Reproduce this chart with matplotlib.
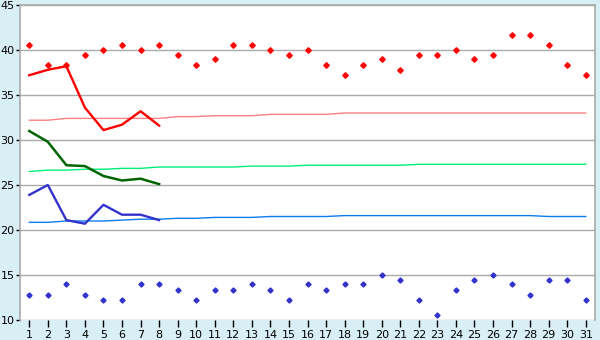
import matplotlib
matplotlib.use("Agg")
import matplotlib.pyplot as plt

days = list(range(1, 32))

# daily max / min (markers)
tmax = [40.6, 38.3, 38.3, 39.4, 40.0, 40.6, 40.0, 40.6, 39.4, 38.3,
        39.0, 40.6, 40.6, 40.0, 39.4, 40.0, 38.3, 37.2, 38.3, 39.0,
        37.8, 39.4, 39.4, 40.0, 39.0, 39.4, 41.7, 41.7, 40.6, 38.3, 37.2]
tmin = [12.8, 12.8, 14.0, 12.8, 12.2, 12.2, 14.0, 14.0, 13.3, 12.2,
        13.3, 13.3, 14.0, 13.3, 12.2, 14.0, 13.3, 14.0, 14.0, 15.0,
        14.4, 12.2, 10.6, 13.3, 14.4, 15.0, 14.0, 12.8, 14.4, 14.4, 12.2]

# observed so far (days 1-8)
obs_days = [1, 2, 3, 4, 5, 6, 7, 8]
obs_max = [37.2, 37.8, 38.2, 33.6, 31.1, 31.7, 33.2, 31.6]
obs_mean = [31.0, 29.8, 27.2, 27.1, 26.0, 25.5, 25.7, 25.1]
obs_min = [23.9, 25.0, 21.1, 20.7, 22.8, 21.7, 21.7, 21.1]

# normals
norm_max = [32.2, 32.2] + [32.4] * 6 + [32.6] * 2 + [32.7] * 3 + [32.85] * 4 + [33.0] * 14
norm_mean = [26.5, 26.65, 26.65, 26.75, 26.75, 26.85, 26.85] + [27.0] * 5 + [27.1] * 3 + [27.2] * 6 + [27.3] * 10
norm_min = [20.85, 20.85, 21.0, 21.0, 21.0, 21.1, 21.2, 21.2, 21.3, 21.3,
            21.4, 21.4, 21.4, 21.5, 21.5, 21.5, 21.5] + [21.6] * 11 + [21.5] * 3

BG = "#d9eff6"
GRID = "#aaaaaa"

fig = plt.figure(figsize=(6, 3.4), dpi=100, facecolor=BG)
ax = fig.add_axes([20 / 600, 1 - 320 / 340, 575 / 600, 315 / 340])
ax.set_facecolor("white")

ax.plot(days, norm_max, color="#ff8080", lw=1)
ax.plot(days, norm_mean, color="#00ee77", lw=1)
ax.plot(days, norm_min, color="#0a7cf0", lw=1)

ax.plot(obs_days, obs_max, color="#ff0000", lw=1.7)
ax.plot(obs_days, obs_mean, color="#006400", lw=1.8)
ax.plot(obs_days, obs_min, color="#3333cc", lw=1.7)

ax.plot(days, tmax, ls="none", marker="D", ms=2.8, color="#ff0000", mec="#ff0000")
ax.plot(days, tmin, ls="none", marker="D", ms=2.6, color="#3333cc", mec="#3333cc")

ax.set_xlim(0.5, 31.5)
ax.set_ylim(10, 45)
ax.set_xticks(days)
ax.set_yticks(range(10, 46, 5))
ax.yaxis.grid(True, color=GRID, lw=1)
ax.set_axisbelow(True)

for s in ax.spines.values():
    s.set_color(GRID)
    s.set_linewidth(1.2)
ax.spines["bottom"].set_visible(False)

ax.tick_params(axis="x", direction="out", length=5, width=1, colors="black",
               labelsize=8, pad=2)
ax.tick_params(axis="y", direction="out", length=3, width=1, colors="black",
               labelsize=8, pad=1)

fig.savefig("out.png", dpi=100, facecolor=BG)
